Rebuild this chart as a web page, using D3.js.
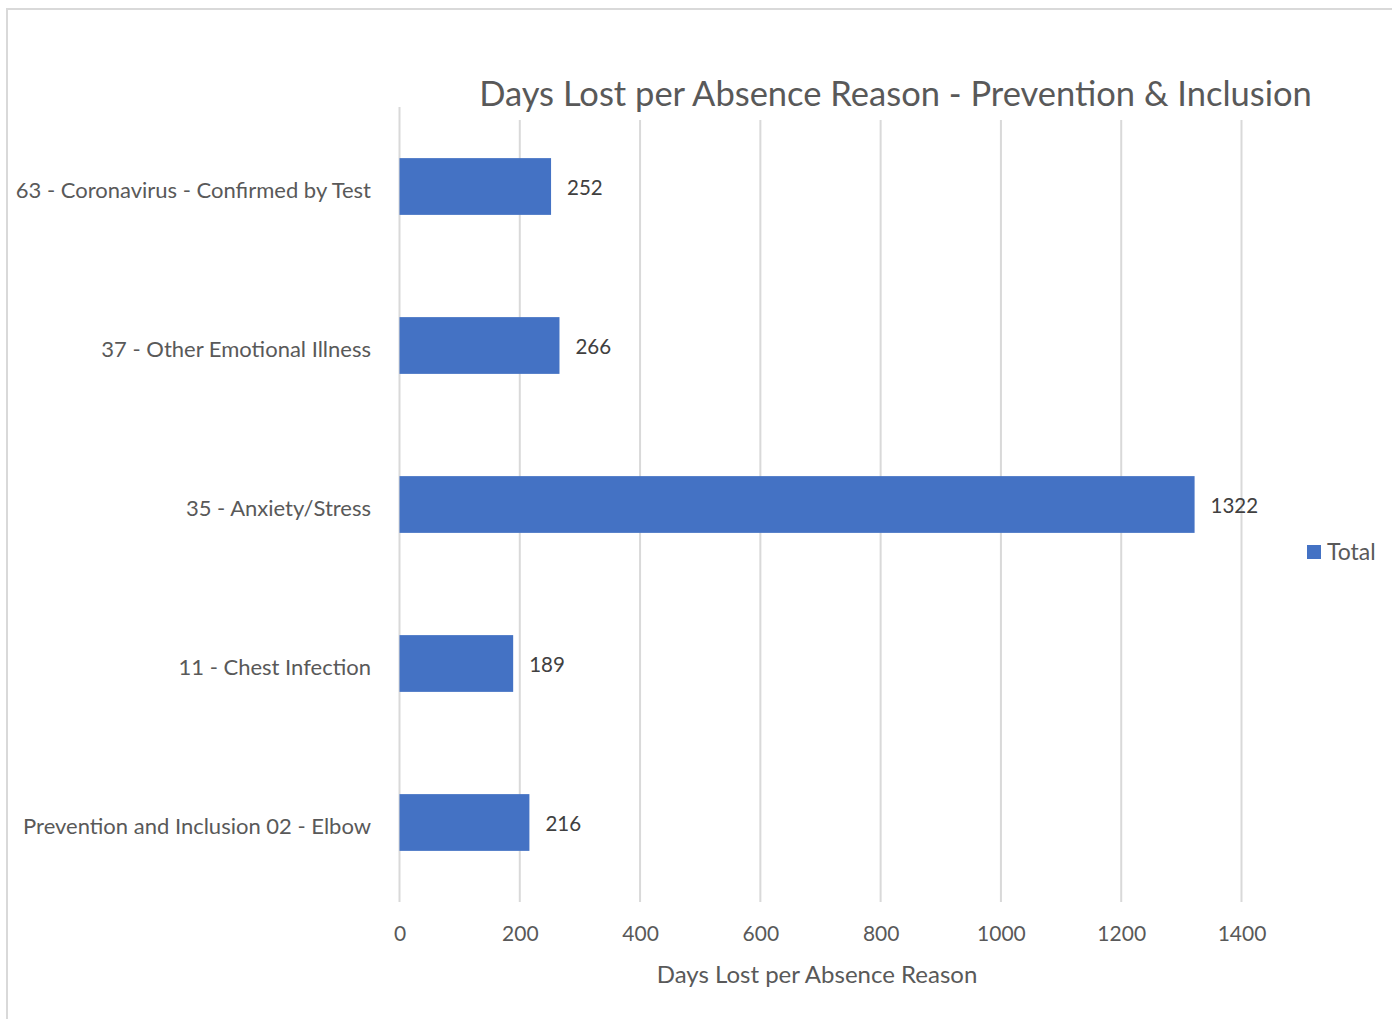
<!DOCTYPE html>
<html>
<head>
<meta charset="utf-8">
<script src="https://cdn.jsdelivr.net/npm/d3@7"></script>
<style>
  html, body { margin: 0; padding: 0; background: #fff; }
  svg { display: block; }
  text { font-family: Lato, "Open Sans", sans-serif; }
</style>
</head>
<body>
<svg id="chart" width="1392" height="1019"></svg>
<script>
// Absence reasons, top to bottom
const categories = [
  "63 - Coronavirus - Confirmed by Test",
  "37 - Other Emotional Illness",
  "35 - Anxiety/Stress",
  "11 - Chest Infection",
  "Prevention and Inclusion 02 - Elbow"
];
// Total days lost for each reason
const totals = [252, 266, 1322, 189, 216];
const xTicks = [0, 200, 400, 600, 800, 1000, 1200, 1400];
const seriesName = "Total";
const chartTitle = "Days Lost per Absence Reason - Prevention & Inclusion";
const xAxisTitle = "Days Lost per Absence Reason";

const W = 1392, H = 1019;
const plot = { left: 399.5, right: 1241.5, top: 107, bottom: 902 };
const barColor = "#4472C4";
const textColor = "#595959";
const gridColor = "#d9d9d9";

const svg = d3.select("#chart");

// chart frame
svg.append("rect")
  .attr("x", 7).attr("y", 9)
  .attr("width", W + 20).attr("height", H + 20)
  .attr("fill", "#fff")
  .attr("stroke", gridColor).attr("stroke-width", 2);

const x = d3.scaleLinear().domain([0, 1400]).range([plot.left, plot.right]);
const y = d3.scaleBand()
  .domain(categories)
  .range([plot.top, plot.bottom])
  .paddingInner(0.643)
  .paddingOuter(0.3215);

// vertical gridlines
svg.append("g")
  .selectAll("line")
  .data(xTicks)
  .join("line")
  .attr("x1", d => x(d)).attr("x2", d => x(d))
  .attr("y1", d => d === 0 ? plot.top : 120)
  .attr("y2", plot.bottom)
  .attr("stroke", gridColor)
  .attr("stroke-width", 2);

// x axis tick labels
const xAxis = d3.axisBottom(x).tickValues(xTicks).tickSize(0).tickPadding(0).tickFormat(d3.format("d"));
const gx = svg.append("g")
  .attr("transform", `translate(0,${plot.bottom + 24})`)
  .call(xAxis);
gx.select(".domain").remove();
gx.selectAll("text")
  .attr("fill", textColor)
  .attr("font-size", 21)
  .attr("font-family", "Lato, 'Open Sans', sans-serif");

// category axis labels
const yAxis = d3.axisLeft(y).tickSize(0).tickPadding(0);
const gy = svg.append("g")
  .attr("transform", `translate(${371},0)`)
  .call(yAxis);
gy.select(".domain").remove();
gy.selectAll("text")
  .attr("fill", textColor)
  .attr("font-size", 22)
  .attr("dy", "0.52em")
  .attr("font-family", "Lato, 'Open Sans', sans-serif");

// bars
svg.append("g")
  .selectAll("rect")
  .data(categories.map((c, i) => ({ c, v: totals[i] })))
  .join("rect")
  .attr("x", x(0))
  .attr("y", d => y(d.c))
  .attr("width", d => x(d.v) - x(0))
  .attr("height", y.bandwidth())
  .attr("fill", barColor);

// value labels
svg.append("g")
  .selectAll("text")
  .data(categories.map((c, i) => ({ c, v: totals[i] })))
  .join("text")
  .attr("x", d => x(d.v) + 16)
  .attr("y", d => y(d.c) + y.bandwidth() / 2)
  .attr("dy", "0.4em")
  .attr("font-size", 20.5)
  .attr("fill", "#404040")
  .text(d => d.v);

// title
svg.append("text")
  .attr("x", 895.5).attr("y", 106)
  .attr("text-anchor", "middle")
  .attr("font-size", 34.5)
  .attr("fill", textColor)
  .text(chartTitle);

// x axis title
svg.append("text")
  .attr("x", 817).attr("y", 983)
  .attr("text-anchor", "middle")
  .attr("font-size", 24)
  .attr("fill", textColor)
  .text(xAxisTitle);

// legend
const legend = svg.append("g").attr("transform", "translate(1307,545)");
legend.append("rect").attr("width", 14).attr("height", 14).attr("fill", barColor);
legend.append("text")
  .attr("x", 20).attr("y", 7).attr("dy", "0.35em")
  .attr("font-size", 23)
  .attr("fill", textColor)
  .text(seriesName);
</script>
</body>
</html>
